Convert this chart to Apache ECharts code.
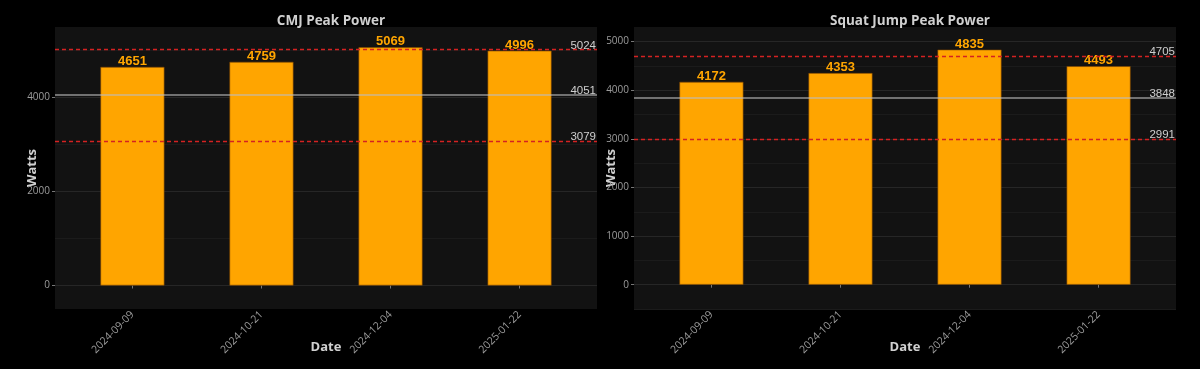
<!DOCTYPE html>
<html><head><meta charset="utf-8">
<script src="https://cdn.jsdelivr.net/npm/echarts@6/dist/echarts.min.js"></script>
<style>html,body{margin:0;padding:0;background:#000}#c{width:1200px;height:369px}</style>
</head><body><div id="c"></div>
<script>
// ---- data ----
const dates = ['2024-09-09', '2024-10-21', '2024-12-04', '2025-01-22'];
const xPositions = [1, 2, 3, 4];
const cmjValues = [4651, 4759, 5069, 4996];
const sjValues = [4172, 4353, 4835, 4493];
// reference lines: [upper, mean, lower]
const cmjLines = [5024, 4051, 3079];
const sjLines = [4705, 3848, 2991];
const cmjYTicks = [0, 2000, 4000];
const sjYTicks = [0, 1000, 2000, 3000, 4000, 5000];
const titles = ['CMJ Peak Power', 'Squat Jump Peak Power'];

const MAJOR = '#262626', MINOR = '#1b1b1b', NONE = 'rgba(0,0,0,0)';
const panels = [
  {title: titles[0], values: cmjValues, lines: cmjLines, ticks: cmjYTicks, yMax: 5500, left: 55, gridColors: [NONE, MAJOR, NONE, MINOR]},
  {title: titles[1], values: sjValues, lines: sjLines, ticks: sjYTicks, yMax: 5300, left: 634, gridColors: [MINOR, MAJOR]}
];
const W = 542, TOP = 27, H = 282;
const option = {
  backgroundColor: '#000',
  animation: false,
  title: [], grid: [], xAxis: [], yAxis: [], series: []
};
panels.forEach((p, i) => {
  option.title.push({
    text: p.title, left: p.left + W / 2, top: 9, textAlign: 'center',
    textStyle: {color: '#d0d0d0', fontSize: 13.5, fontWeight: 'bold', fontFamily: 'Open Sans'}
  });
  option.grid.push({left: p.left, top: TOP, width: W, height: H, show: true, backgroundColor: '#121212', borderWidth: 0,
    containLabel: false, outerBoundsMode: 'none'});
  option.xAxis.push({
    type: 'value', gridIndex: i, min: 0.4, max: 4.6,
    name: 'Date', nameLocation: 'middle', nameGap: 32, nameMoveOverlap: false,
    nameTextStyle: {color: '#d0d0d0', fontSize: 13, fontWeight: 'bold', fontFamily: 'Open Sans', verticalAlign: 'top'},
    axisLine: {show: false},
    splitLine: {show: false},
    axisTick: {show: true, customValues: xPositions, length: 3, lineStyle: {color: '#777'}},
    axisLabel: {customValues: xPositions, rotate: 45, margin: 4, color: '#9c9c9c', fontSize: 10.5, fontFamily: 'Open Sans',
      formatter: v => dates[Math.round(v) - 1]}
  });
  option.yAxis.push({
    type: 'value', gridIndex: i, min: -500, max: p.yMax,
    name: 'Watts', nameLocation: 'middle', nameGap: 16, nameMoveOverlap: false,
    nameTextStyle: {color: '#d0d0d0', fontSize: 13, fontWeight: 'bold', fontFamily: 'Open Sans'},
    axisLine: {show: false},
    splitLine: {show: false},
    axisTick: {show: true, customValues: p.ticks, length: 3, lineStyle: {color: '#777'}},
    axisLabel: {customValues: p.ticks, margin: 5, color: '#9c9c9c', fontSize: 10, fontFamily: 'Open Sans',
      formatter: v => String(v)}
  });
  option.yAxis.push({
    type: 'value', gridIndex: i, min: -500, max: p.yMax, interval: 500,
    axisLine: {show: false}, axisTick: {show: false}, axisLabel: {show: false},
    splitLine: {show: true, showMaxLine: false, lineStyle: {color: p.gridColors, width: 1}}
  });
  option.series.push({
    type: 'bar', xAxisIndex: i, yAxisIndex: 2 * i,
    data: xPositions.map((x, k) => [x, p.values[k]]),
    barWidth: 64,
    itemStyle: {color: '#FFA500', borderColor: '#7a4300', borderWidth: 0.6},
    label: {show: true, position: 'top', distance: -1, color: '#FFA500', fontSize: 13, fontWeight: 'bold',
      fontFamily: 'Liberation Sans', formatter: q => q.value[1]},
    markLine: {
      silent: true, symbol: ['none', 'none'],
      label: {show: true, position: 'insideEndTop', distance: [1, -2], color: '#cfcfcf', fontSize: 11.5,
        fontFamily: 'Liberation Sans', formatter: q => q.value},
      data: p.lines.map((v, k) => ({
        yAxis: v,
        lineStyle: k === 1
          ? {color: 'rgba(190,190,190,0.75)', width: 1.5, type: 'solid'}
          : {color: '#d42222', width: 1.4, type: [4, 3]}
      }))
    }
  });
});
const chart = echarts.init(document.getElementById('c'), null, {renderer: 'canvas'});
chart.setOption(option);
</script>
</body></html>
